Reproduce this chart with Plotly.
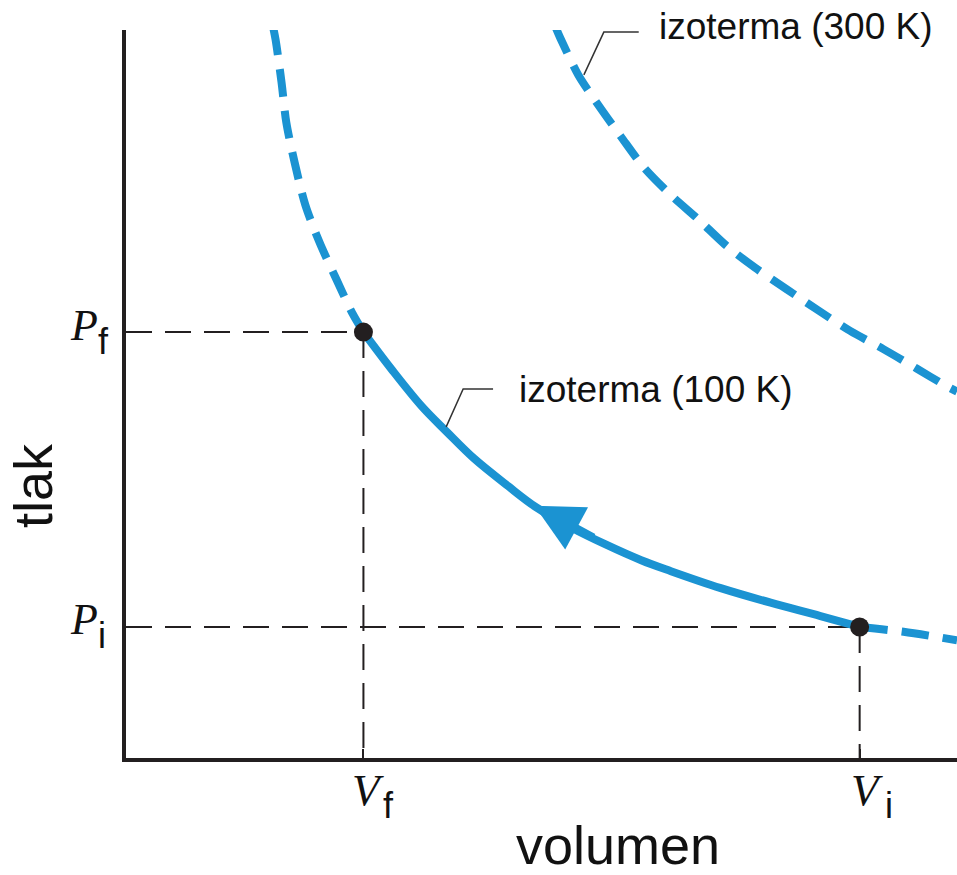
import plotly.graph_objects as go

# ---------------- data (arbitrary units) ----------------
# isotherm 100 K : dashed part above the final state
V_100_upper = [1.24, 1.26, 1.31, 1.35, 1.42, 1.51, 1.63, 1.77, 1.91, 2.00]
P_100_upper = [6.02, 5.92, 5.57, 5.24, 4.91, 4.56, 4.25, 3.95, 3.66, 3.51]
# isotherm 100 K : solid process path (from Vi to Vf)
V_100_path = [2.00, 2.24, 2.49, 2.70, 2.93, 3.22, 3.45, 3.75, 4.04, 4.34, 4.59, 5.01, 5.43, 5.85, 6.18]
P_100_path = [3.51, 3.20, 2.90, 2.69, 2.47, 2.24, 2.07, 1.90, 1.76, 1.63, 1.54, 1.40, 1.28, 1.17, 1.08]
# isotherm 100 K : dashed part beyond the initial state
V_100_lower = [6.18, 6.55, 7.00]
P_100_lower = [1.08, 1.04, 0.97]
# isotherm 300 K
V_300 = [3.62, 3.66, 3.81, 3.98, 4.17, 4.36, 4.59, 4.82, 5.06, 5.30, 5.57, 5.83, 6.10, 6.38, 6.66, 6.92, 7.00]
P_300 = [6.02, 5.93, 5.63, 5.38, 5.12, 4.87, 4.64, 4.44, 4.22, 4.04, 3.86, 3.69, 3.52, 3.37, 3.21, 3.06, 3.02]

# states
V_f, P_f = 2.00, 3.51
V_i, P_i = 6.18, 1.08
x_tick_main = ["V", "V"]
x_tick_sub = ["f", "i"]
y_tick_main = ["P", "P"]
y_tick_sub = ["f", "i"]

labels = ["izoterma (300 K)", "izoterma (100 K)"]
x_title = "volumen"
y_title = "tlak"

# ---------------- styles ----------------
BLUE = "#1b93d2"
INK = "#231f20"
TXT = "#111111"
SANS = "Liberation Sans, Arial, sans-serif"
SERIF = "Liberation Serif, Times New Roman, serif"
CURVE_DASH = "28px,14px"
REF_DASH = "26px,13px"

fig = go.Figure()

# dashed reference lines to the axes
for V, P in [(V_f, P_f), (V_i, P_i)]:
    fig.add_trace(go.Scatter(x=[0, V], y=[P, P], mode="lines",
                             line=dict(color=INK, width=2, dash=REF_DASH),
                             hoverinfo="skip"))
    fig.add_trace(go.Scatter(x=[V, V], y=[P, 0], mode="lines",
                             line=dict(color=INK, width=2, dash=REF_DASH),
                             hoverinfo="skip"))

# isotherms
fig.add_trace(go.Scatter(x=V_300, y=P_300, mode="lines",
                         line=dict(color=BLUE, width=8, dash=CURVE_DASH, shape="spline", smoothing=0.8),
                         hoverinfo="skip"))
fig.add_trace(go.Scatter(x=V_100_upper, y=P_100_upper, mode="lines",
                         line=dict(color=BLUE, width=8, dash=CURVE_DASH, shape="spline", smoothing=0.8),
                         hoverinfo="skip"))
fig.add_trace(go.Scatter(x=V_100_path, y=P_100_path, mode="lines",
                         line=dict(color=BLUE, width=8, shape="spline", smoothing=1.0),
                         hoverinfo="skip"))
fig.add_trace(go.Scatter(x=V_100_lower, y=P_100_lower, mode="lines",
                         line=dict(color=BLUE, width=8, dash=CURVE_DASH, shape="spline", smoothing=0.8),
                         hoverinfo="skip"))

# state points
fig.add_trace(go.Scatter(x=[V_f, V_i], y=[P_f, P_i], mode="markers",
                         marker=dict(color=INK, size=19), hoverinfo="skip", cliponaxis=False))

annotations = []
# direction arrow on the process path
annotations.append(dict(x=3.44, y=2.08, ax=3.95, ay=1.81, xref="x", yref="y", axref="x", ayref="y",
                        text="", showarrow=True, arrowhead=2, arrowsize=1.2, arrowwidth=8,
                        arrowcolor=BLUE, standoff=0))

# isotherm labels
annotations.append(dict(x=4.47, y=1, xref="x", yref="paper", yshift=4, text=labels[0], showarrow=False,
                        xanchor="left", yanchor="middle", font=dict(family=SANS, size=37, color=TXT)))
annotations.append(dict(x=3.29, y=3.04, xref="x", yref="y", text=labels[1], showarrow=False,
                        xanchor="left", yanchor="middle", font=dict(family=SANS, size=37, color=TXT)))

# x tick labels
x_main_shift = [5, 7]
x_sub_shift = [18, 23]
for V, m, s, ms, ss in zip([V_f, V_i], x_tick_main, x_tick_sub, x_main_shift, x_sub_shift):
    annotations.append(dict(x=V, y=0, xref="x", yref="paper", text="<i>%s</i>" % m, showarrow=False,
                            xanchor="center", yanchor="middle", xshift=ms, yshift=-32,
                            font=dict(family=SERIF, size=45, color=TXT)))
    annotations.append(dict(x=V, y=0, xref="x", yref="paper", text=s, showarrow=False,
                            xanchor="left", yanchor="middle", xshift=ss, yshift=-47,
                            font=dict(family=SANS, size=36, color=TXT)))

# y tick labels
for P, m, s in zip([P_f, P_i], y_tick_main, y_tick_sub):
    annotations.append(dict(x=0, y=P, xref="paper", yref="y", text="<i>%s</i>" % m, showarrow=False,
                            xanchor="right", yanchor="middle", xshift=-26, yshift=7,
                            font=dict(family=SERIF, size=44, color=TXT)))
    annotations.append(dict(x=0, y=P, xref="paper", yref="y", text=s, showarrow=False,
                            xanchor="left", yanchor="middle", xshift=-30, yshift=-9,
                            font=dict(family=SANS, size=36, color=TXT)))

# axis titles
annotations.append(dict(x=0.592, y=0, xref="paper", yref="paper", text=x_title, showarrow=False,
                        xanchor="center", yanchor="middle", yshift=-87,
                        font=dict(family=SANS, size=54, color=TXT)))
annotations.append(dict(x=-0.112, y=0.375, xref="paper", yref="paper", text=y_title, showarrow=False,
                        textangle=-90, xanchor="center", yanchor="middle",
                        font=dict(family=SANS, size=54, color=TXT)))

shapes = [
    dict(type="path", xref="x", yref="y", path="M 3.857,5.630 L 4.025,5.983 L 4.319,5.983",
         line=dict(color="#333333", width=1.5)),
    dict(type="path", xref="x", yref="y", path="M 2.697,2.729 L 2.840,3.041 L 3.092,3.041",
         line=dict(color="#333333", width=1.5)),
]

axis_common = dict(showline=True, linewidth=4, linecolor=INK, showgrid=False, zeroline=False,
                   ticks="inside", ticklen=9, tickwidth=2, tickcolor=INK, showticklabels=False,
                   fixedrange=True)

fig.update_layout(
    width=957, height=875,
    margin=dict(l=126, r=0, t=30, b=117),
    paper_bgcolor="white", plot_bgcolor="white",
    showlegend=False,
    xaxis=dict(range=[0, 7.0], tickvals=[V_f, V_i], **axis_common),
    yaxis=dict(range=[0, 6.0], tickvals=[P_f, P_i], **axis_common),
    annotations=annotations,
    shapes=shapes,
)

fig.write_html(
    "out.html",
    config={"displayModeBar": False},
    post_script="document.body.style.margin='0px';document.documentElement.style.overflow='hidden';",
)
